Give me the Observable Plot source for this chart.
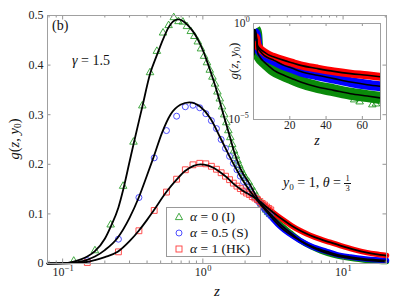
<!DOCTYPE html>
<html><head><meta charset="utf-8">
<script src="https://cdn.jsdelivr.net/npm/d3@7"></script>
<script src="https://cdn.jsdelivr.net/npm/@observablehq/plot@0.6"></script>
<style>
@font-face{font-family:"LSerif";font-style:normal;font-weight:400;src:local("Liberation Serif"),local("LiberationSerif"),local("LiberationSerif-Regular"),local("Times New Roman");}
@font-face{font-family:"LSerif";font-style:italic;font-weight:400;src:local("Liberation Serif Italic"),local("LiberationSerif-Italic"),local("Times New Roman Italic");}
body{margin:0;background:#fff;overflow:hidden;}
#wrap{position:relative;width:399px;height:299px;font-family:'Liberation Serif',LSerif,'DejaVu Serif',serif;color:#111;}
.ov{position:absolute;white-space:nowrap;line-height:1;font-family:'Liberation Serif',LSerif,'DejaVu Serif',serif;color:#111;font-weight:400;}
.ov sub{font-size:0.65em;vertical-align:-0.25em;line-height:0;}
.ctr{transform:translate(-50%,-50%);}
.rot{transform:translate(-50%,-50%) rotate(-90deg);}
.fr{display:inline-block;vertical-align:-0.42em;font-size:8.5px;text-align:center;line-height:1.05;}
.fr span{display:block;padding:0 1px;}
.fr .n{border-bottom:0.8px solid #111;}
#legend{position:absolute;left:166px;top:207px;width:95px;height:50px;box-sizing:border-box;border:1px solid #999;background:#fff;font-family:'Liberation Serif',LSerif,'DejaVu Serif',serif;}
#legend .row{position:absolute;left:0;height:0;}
#legend svg{position:absolute;left:6px;top:-6px;}
#legend .t{position:absolute;left:23px;top:0;transform:translateY(-55%);font-size:13.5px;white-space:nowrap;line-height:1;}
</style></head><body><div id="wrap"></div>
<script>
// ---------- main panel data (z on log axis, g(z,y0)) ----------
const zLineG = [0.078,0.1,0.12,0.15,0.17,0.2,0.22,0.25,0.27,0.3,0.32,0.37,0.42,0.47,0.52,0.57,0.62,0.67,0.72,0.77,0.85,0.92,1.0,1.07,1.15,1.26,1.41,1.55,1.66,1.85,2.18,2.5,3.03,3.57,4.2,4.96,6,7,8.6,10,12,14,16,18,20.4];
const gLineG = [0,0.0006,0.004,0.014,0.025,0.050,0.074,0.113,0.148,0.205,0.240,0.316,0.382,0.420,0.452,0.476,0.489,0.492,0.489,0.482,0.468,0.452,0.430,0.408,0.382,0.347,0.298,0.258,0.228,0.192,0.158,0.127,0.100,0.079,0.062,0.046,0.033,0.025,0.017,0.013,0.0095,0.0072,0.0057,0.0047,0.004];
const zLineB = [0.078,0.1,0.12,0.148,0.17,0.2,0.247,0.3,0.349,0.4,0.446,0.512,0.587,0.691,0.801,0.96,1.13,1.33,1.57,1.85,2.18,2.71,3.57,4.96,6,7.69,9,11.3,14,17,20.4];
const gLineB = [0,0.0005,0.002,0.007,0.014,0.027,0.052,0.092,0.133,0.178,0.215,0.264,0.300,0.320,0.325,0.316,0.293,0.254,0.213,0.176,0.145,0.112,0.074,0.046,0.034,0.024,0.018,0.013,0.0095,0.0075,0.006];
const zLineR = [0.078,0.1,0.12,0.148,0.17,0.2,0.247,0.3,0.349,0.4,0.446,0.549,0.654,0.742,0.859,0.96,1.08,1.19,1.33,1.49,1.65,1.85,2.05,2.3,2.5,2.87,3.3,3.77,4.3,4.96,5.8,6.88,8,9.57,12,14.8,17,20.4];
const gLineR = [0,0.0002,0.0008,0.003,0.007,0.013,0.0235,0.045,0.066,0.088,0.107,0.144,0.170,0.186,0.197,0.200,0.198,0.193,0.184,0.173,0.161,0.150,0.142,0.134,0.127,0.113,0.099,0.087,0.076,0.066,0.057,0.049,0.043,0.036,0.028,0.022,0.019,0.016];

const zMarkG = [0.12,0.17,0.22,0.27,0.32,0.37,0.42,0.47,0.52,0.57,0.62,0.67,0.72,0.77,0.82,0.87,0.92,0.97,1.02,1.07,1.12,1.17,1.22,1.27,1.32,1.37,1.42,1.47,1.52,1.57,1.62,1.67,1.72,1.77,1.82,1.87,1.92,1.97,2.02,2.12,2.22,2.32,2.42,2.52,2.62,2.72,2.82,2.92,3.02];
const gMarkG = [0.005,0.026,0.078,0.156,0.245,0.318,0.385,0.428,0.465,0.480,0.496,0.488,0.487,0.478,0.468,0.458,0.447,0.433,0.418,0.405,0.390,0.376,0.362,0.346,0.332,0.316,0.300,0.284,0.268,0.254,0.240,0.227,0.217,0.207,0.198,0.190,0.183,0.177,0.172,0.164,0.154,0.145,0.136,0.127,0.120,0.114,0.108,0.103,0.099];
const zMarkB = [0.15,0.25,0.35,0.45,0.55,0.65,0.75,0.85,0.95,1.05,1.15,1.25,1.35,1.45,1.55,1.65,1.75,1.85,1.95,2.05,2.15,2.25,2.35,2.45,2.55,2.65,2.75,2.85,2.95,3.05];
const gMarkB = [0.006,0.049,0.133,0.213,0.268,0.297,0.316,0.319,0.314,0.302,0.288,0.272,0.250,0.232,0.216,0.202,0.189,0.176,0.165,0.155,0.147,0.140,0.133,0.127,0.121,0.116,0.110,0.105,0.100,0.096];
const zMarkR = [0.15,0.25,0.35,0.45,0.55,0.65,0.75,0.85,0.95,1.05,1.15,1.25,1.35,1.45,1.55,1.65,1.75,1.85,1.95,2.05,2.15,2.25,2.35,2.45,2.55,2.65,2.75,2.85,2.95,3.05];
const gMarkR = [0.002,0.0235,0.066,0.107,0.144,0.170,0.189,0.199,0.202,0.201,0.196,0.190,0.183,0.176,0.169,0.162,0.156,0.151,0.146,0.142,0.139,0.135,0.132,0.129,0.125,0.121,0.118,0.114,0.111,0.108];

const xMajor = [0.1, 1, 10];
const xMajorExp = ["\u22121", "0", "1"];
const xMinor = [0.08,0.09,0.2,0.3,0.4,0.5,0.6,0.7,0.8,0.9,2,3,4,5,6,7,8,9,20];
const yTicks = [0, 0.1, 0.2, 0.3, 0.4, 0.5];
const yTickLabels = ["0", "0.1", "0.2", "0.3", "0.4", "0.5"];

// ---------- inset data (z linear 0..70, g on log axis) ----------
const zIn  = [0.25,0.4,0.7,1.0,1.5,2.2,3.5,5.8,8,11.3,16.8,21,26,35.2,44.3,53.5,62.7,70];
const gInG = [0.113,0.41,0.489,0.43,0.27,0.033,0.018,0.010,0.0066,0.0036,0.002,0.00138,0.00089,0.00049,0.00033,0.00022,0.000166,0.000132];
const gInB = [0.052,0.178,0.32,0.31,0.22,0.060,0.038,0.022,0.0166,0.012,0.0066,0.0048,0.0032,0.002,0.00135,0.00089,0.00065,0.00054];
const gInR = [0.0235,0.088,0.18,0.20,0.17,0.074,0.05,0.033,0.024,0.018,0.012,0.0091,0.0066,0.0045,0.0032,0.00245,0.002,0.00166];
const zOutG = [55.5, 58.5, 65.5, 67.5];
const gOutG = [0.000107, 0.000084, 0.000059, 0.000066];
const xTicksIn = [20, 40, 60];
const yTicksIn = [1, 1e-5];
const yTicksInExp = ["0", "\u22125"];

// ---------- build ----------
const rows = (zs, gs) => zs.map((z, i) => ({z, g: gs[i]}));
const lineG = rows(zLineG, gLineG), lineB = rows(zLineB, gLineB), lineR = rows(zLineR, gLineR);
const markG = rows(zMarkG, gMarkG), markB = rows(zMarkB, gMarkB), markR = rows(zMarkR, gMarkR);
const inG = rows(zIn, gInG), inB = rows(zIn, gInB), inR = rows(zIn, gInR), outG = rows(zOutG, gOutG);

const colG = "#0a8a0a", colB = "#0000ff", colR = "#ff0000";
const mkG = "#2f9f2f", mkB = "#3b3bff", mkR = "#ff3b3b";
const frameCol = "#a0a0a0", tickCol = "#7a7a7a";
const font = "'Liberation Serif', LSerif, 'DejaVu Serif', serif";

const ML = 47, MR = 13, MT = 15, MB = 36, WW = 399, HH = 299;
const FW = WW - ML - MR, FH = HH - MT - MB;

const labelMarks = [];
const w10 = 12, expW = [8.5, 4, 4];
xMajor.forEach((t, i) => {
  const W = w10 + expW[i];
  const endDx = -W / 2 + w10;
  labelMarks.push(Plot.text([t], {x: d => d, frameAnchor: "bottom", text: () => "10", textAnchor: "end", dx: endDx, dy: 12, fontSize: 12}));
  labelMarks.push(Plot.text([t], {x: d => d, frameAnchor: "bottom", text: () => xMajorExp[i], textAnchor: "start", dx: endDx + 0.3, dy: 7, fontSize: 8.5}));
});

const main = Plot.plot({
  width: WW, height: HH,
  marginLeft: ML, marginRight: MR, marginTop: MT, marginBottom: MB,
  x: {type: "log", domain: [0.078, 20.4], axis: null},
  y: {domain: [0, 0.5], axis: null},
  style: {fontFamily: font, fontSize: "12px", color: "#222", background: "white"},
  marks: [
    Plot.line(lineG.filter(d => d.z >= 2.4), {x: "z", y: "g", stroke: colG, strokeWidth: 5.5, curve: "monotone-x"}),
    Plot.line(lineB.filter(d => d.z >= 2.4), {x: "z", y: "g", stroke: colB, strokeWidth: 5.5, curve: "monotone-x"}),
    Plot.line(lineR.filter(d => d.z >= 2.4), {x: "z", y: "g", stroke: colR, strokeWidth: 5.5, curve: "monotone-x"}),
    Plot.dot(markG, {x: "z", y: "g", symbol: "triangle", r: 2.8, stroke: mkG, strokeWidth: 0.9, fill: "none"}),
    Plot.dot(markB, {x: "z", y: "g", symbol: "circle", r: 3, stroke: mkB, strokeWidth: 0.9, fill: "none"}),
    Plot.dot(markR, {x: "z", y: "g", symbol: "square", r: 3.3, stroke: mkR, strokeWidth: 0.9, fill: "none"}),
    Plot.line(lineG, {x: "z", y: "g", stroke: "black", strokeWidth: 1.8, curve: "monotone-x"}),
    Plot.line(lineB, {x: "z", y: "g", stroke: "black", strokeWidth: 1.8, curve: "monotone-x"}),
    Plot.line(lineR, {x: "z", y: "g", stroke: "black", strokeWidth: 1.8, curve: "monotone-x"}),
    Plot.tickX(xMinor, {x: d => d, insetTop: FH - 2.5, stroke: tickCol, strokeWidth: 0.8}),
    Plot.tickX(xMinor, {x: d => d, insetBottom: FH - 2.5, stroke: tickCol, strokeWidth: 0.8}),
    Plot.tickX(xMajor, {x: d => d, insetTop: FH - 4.5, stroke: tickCol, strokeWidth: 0.8}),
    Plot.tickX(xMajor, {x: d => d, insetBottom: FH - 4.5, stroke: tickCol, strokeWidth: 0.8}),
    Plot.tickY(yTicks, {y: d => d, insetRight: FW - 3.5, stroke: tickCol, strokeWidth: 0.8}),
    Plot.tickY(yTicks, {y: d => d, insetLeft: FW - 3.5, stroke: tickCol, strokeWidth: 0.8}),
    Plot.frame({stroke: frameCol, strokeWidth: 1}),
    Plot.text(yTicks, {y: d => d, frameAnchor: "left", text: (d, i) => yTickLabels[i], textAnchor: "end", dx: -4, fontSize: 12}),
    ...labelMarks
  ]
});
main.style.position = "absolute";
main.style.left = "0px";
main.style.top = "0px";

// inset
const IL = 222, IT = 10, IW = 165, IH = 135;
const iML = 31, iMR = 7, iMT = 13, iMB = 26;
const IFW = IW - iML - iMR, IFH = IH - iMT - iMB;
const insetLabels = [];
const expDx = [-8, -13.5];
yTicksIn.forEach((t, i) => {
  insetLabels.push(Plot.text([t], {y: d => d, frameAnchor: "left", text: () => "10", textAnchor: "end", dx: expDx[i], fontSize: 11.5}));
  insetLabels.push(Plot.text([t], {y: d => d, frameAnchor: "left", text: () => yTicksInExp[i], textAnchor: "start", dx: expDx[i] + 0.3, dy: -4, fontSize: 8}));
});
const inset = Plot.plot({
  width: IW, height: IH,
  marginLeft: iML, marginRight: iMR, marginTop: iMT, marginBottom: iMB,
  x: {domain: [0, 70], axis: null},
  y: {type: "log", domain: [1e-5, 1], axis: null},
  style: {fontFamily: font, fontSize: "11.5px", color: "#222", background: "transparent", overflow: "visible"},
  marks: [
    Plot.frame({fill: "white", stroke: null}),
    Plot.line(inG.filter(d => d.z >= 0.5), {x: "z", y: "g", stroke: colG, strokeWidth: 12, strokeLinecap: "butt", curve: "monotone-x", clip: true}),
    Plot.dot(outG, {x: "z", y: "g", symbol: "triangle", r: 2.8, stroke: colG, strokeWidth: 0.8, fill: "none"}),
    Plot.line(inB.filter(d => d.z >= 0.5), {x: "z", y: "g", stroke: colB, strokeWidth: 10, strokeLinecap: "butt", curve: "monotone-x", clip: true}),
    Plot.line(inR.filter(d => d.z >= 0.5), {x: "z", y: "g", stroke: colR, strokeWidth: 8, strokeLinecap: "butt", curve: "monotone-x", clip: true}),
    Plot.line(inG, {x: "z", y: "g", stroke: "black", strokeWidth: 1.6, curve: "monotone-x", clip: true}),
    Plot.line(inB, {x: "z", y: "g", stroke: "black", strokeWidth: 1.6, curve: "monotone-x", clip: true}),
    Plot.line(inR, {x: "z", y: "g", stroke: "black", strokeWidth: 1.6, curve: "monotone-x", clip: true}),
    Plot.tickX(xTicksIn, {x: d => d, insetTop: IFH - 3, stroke: tickCol, strokeWidth: 0.8}),
    Plot.tickX(xTicksIn, {x: d => d, insetBottom: IFH - 3, stroke: tickCol, strokeWidth: 0.8}),
    Plot.frame({stroke: frameCol, strokeWidth: 1}),
    Plot.text(xTicksIn, {x: d => d, frameAnchor: "bottom", text: d => String(d), dy: 9, fontSize: 11.5}),
    ...insetLabels
  ]
});
inset.style.position = "absolute";
inset.style.left = IL + "px";
inset.style.top = IT + "px";

const wrap = document.getElementById("wrap");
wrap.appendChild(main);
wrap.appendChild(inset);

const ov = (html, css, cls = "ov") => {
  const d = document.createElement("div");
  d.className = cls;
  d.innerHTML = html;
  Object.assign(d.style, css);
  wrap.appendChild(d);
  return d;
};
ov("(b)", {left: "52px", top: "19px", fontSize: "14px"});
ov("<i>γ</i> = 1.5", {left: "72px", top: "54px", fontSize: "14px"});
ov('<i>y</i><sub>0</sub> = 1, <i>θ</i> = <span class="fr"><span class="n">1</span><span>3</span></span>', {left: "283px", top: "174px", fontSize: "14px"});
ov("<i>g</i>(<i>z</i>, <i>y</i><sub>0</sub>)", {left: "14px", top: "139px", fontSize: "14.5px"}, "ov rot");
ov("<i>z</i>", {left: "217px", top: "291px", fontSize: "15px"}, "ov ctr");
ov("<i>g</i>(<i>z</i>, <i>y</i><sub>0</sub>)", {left: "233px", top: "61px", fontSize: "13px"}, "ov rot");
ov("<i>z</i>", {left: "317px", top: "141px", fontSize: "14px"}, "ov ctr");

const legendItems = [
  {sym: "triangle", col: mkG, html: "<i>α</i> = 0 (I)"},
  {sym: "circle", col: mkB, html: "<i>α</i> = 0.5 (S)"},
  {sym: "square", col: mkR, html: "<i>α</i> = 1 (HK)"}
];
const legend = document.createElement("div");
legend.id = "legend";
const rowY = [8.5, 24.5, 40.5];
legendItems.forEach((it, i) => {
  const r = document.createElement("div");
  r.className = "row";
  r.style.top = rowY[i] + "px";
  let shape;
  if (it.sym === "triangle") shape = `<path d="M6,2.2 L9.6,8.6 L2.4,8.6 Z" fill="none" stroke="${it.col}" stroke-width="0.9"/>`;
  else if (it.sym === "circle") shape = `<circle cx="6" cy="6" r="3" fill="none" stroke="${it.col}" stroke-width="0.9"/>`;
  else shape = `<rect x="3" y="3" width="6" height="6" fill="none" stroke="${it.col}" stroke-width="0.9"/>`;
  r.innerHTML = `<svg width="12" height="12">${shape}</svg><div class="t">${it.html}</div>`;
  legend.appendChild(r);
});
wrap.appendChild(legend);
</script>
</body></html>
